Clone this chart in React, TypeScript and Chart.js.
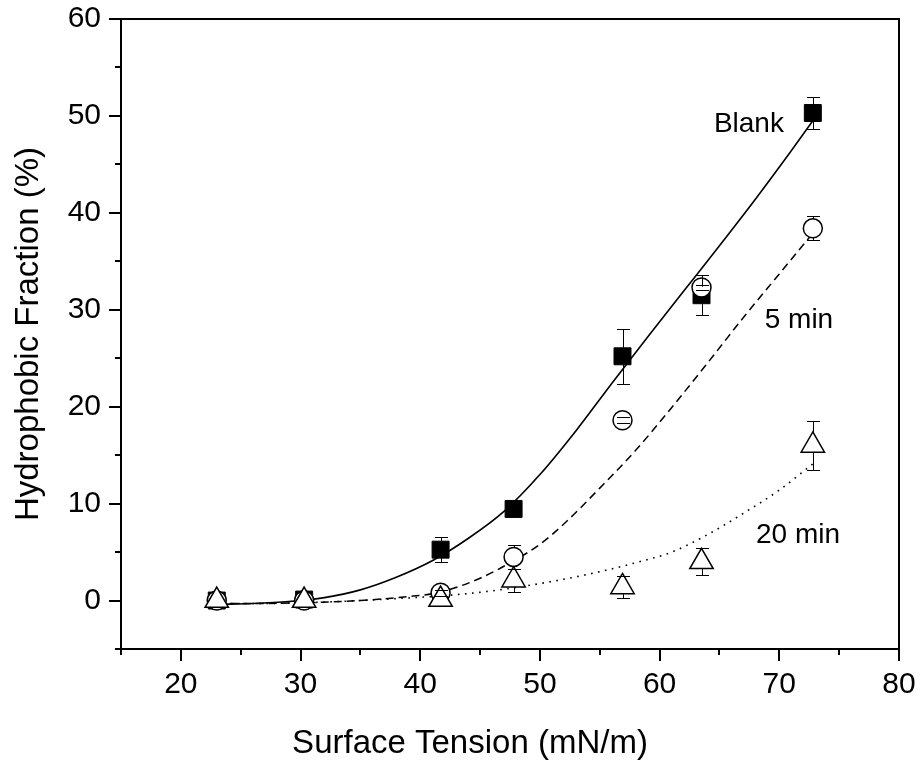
import React, { useEffect, useRef } from "react";
import { Chart, registerables } from "chart.js";
Chart.register(...registerables);

// Measured points (surface tension, mN/m)
const pointX = [23.0, 30.3, 41.7, 47.8, 56.9, 63.5, 72.8];
const blankY = [0.0, 0.1, 5.25, 9.45, 25.2, 31.5, 50.3];
const blankErr = [0, 0, 1.3, 0.3, 2.85, 2.05, 1.65];
const min5Y = [0.0, 0.0, 0.8, 4.5, 18.6, 32.3, 38.4];
const min5Err = [0, 0, 0.3, 1.2, 0.3, 0.3, 1.25];
const min20Y = [0.0, 0.0, 0.1, 2.1, 1.4, 4.0, 16.0];
const min20Err = [0, 0, 0, 1.2, 1.1, 1.4, 2.55];

// Fitted curves
const fitBlankX = [23, 26, 29, 32, 35, 38, 41, 44, 47, 50, 53, 56, 59, 62, 65, 68, 71, 72.8];
const fitBlankY = [-0.4, -0.3, -0.1, 0.3, 1.1, 2.4, 4.1, 6.4, 9.2, 13.0, 17.5, 22.4, 27.2, 31.9, 36.6, 41.4, 46.4, 49.5];
const fit5X = [23, 27, 31, 35, 38, 41.6, 45, 47.8, 50, 52, 55, 58, 61, 64, 67, 70, 72.8];
const fit5Y = [-0.3, -0.3, -0.2, 0.0, 0.3, 0.85, 2.3, 4.1, 5.8, 7.9, 11.6, 15.5, 19.9, 24.5, 29.2, 33.7, 37.9];
const fit20X = [23, 27, 31, 35, 38, 42, 46, 50, 54, 58, 61, 64, 67, 70, 72.8];
const fit20Y = [-0.3, -0.3, -0.2, 0.0, 0.2, 0.5, 1.0, 1.75, 2.7, 3.9, 5.0, 6.8, 9.0, 11.4, 14.1];

// Axis ticks
const xTickValues = [15, 20, 25, 30, 35, 40, 45, 50, 55, 60, 65, 70, 75, 80];
const yTickValues = [-5, 0, 5, 10, 15, 20, 25, 30, 35, 40, 45, 50, 55, 60];

// Curve labels
const annTexts = ["Blank", "5 min", "20 min"];
const annX = [67.46, 71.64, 71.56];
const annY = [48.3, 28.1, 5.9];

const xTitle = "Surface Tension (mN/m)";
const yTitle = "Hydrophobic Fraction (%)";

const FONT = "'Liberation Sans', Arial, Helvetica, sans-serif";

const zip = (xs: number[], ys: number[]) => xs.map((x, i) => ({ x, y: ys[i] }));

export default function App() {
  const ref = useRef<HTMLCanvasElement | null>(null);

  useEffect(() => {
    document.body.style.margin = "0";
    const canvas = ref.current;
    if (!canvas) return;

    const errPlugin = {
      id: "errbars",
      afterDatasetsDraw(chart: any) {
        const ctx = chart.ctx;
        const xs = chart.scales.x;
        const ys = chart.scales.y;
        const sets = [
          { y: blankY, e: blankErr, up: 8.5, down: 8.5 },
          { y: min5Y, e: min5Err, up: 9.5, down: 9.5 },
          { y: min20Y, e: min20Err, up: 13.5, down: 6.75 },
        ];
        ctx.save();
        ctx.strokeStyle = "#000";
        ctx.lineWidth = 1;
        sets.forEach((s) => {
          pointX.forEach((xv, i) => {
            const err = s.e[i];
            if (!err) return;
            const px = Math.round(xs.getPixelForValue(xv)) + 0.5;
            const pc = ys.getPixelForValue(s.y[i]);
            const pt = Math.round(ys.getPixelForValue(s.y[i] + err)) + 0.5;
            const pb = Math.round(ys.getPixelForValue(s.y[i] - err)) + 0.5;
            ctx.beginPath();
            if (pc - pt > s.up) {
              ctx.moveTo(px, pc - s.up);
              ctx.lineTo(px, pt);
            }
            if (pb - pc > s.down) {
              ctx.moveTo(px, pc + s.down);
              ctx.lineTo(px, pb);
            }
            ctx.moveTo(px - 6.5, pt);
            ctx.lineTo(px + 6.5, pt);
            ctx.moveTo(px - 6.5, pb);
            ctx.lineTo(px + 6.5, pb);
            ctx.stroke();
          });
        });
        ctx.restore();
      },
    };

    const decoPlugin = {
      id: "deco",
      afterDraw(chart: any) {
        const ctx = chart.ctx;
        const a = chart.chartArea;
        const xs = chart.scales.x;
        const ys = chart.scales.y;
        ctx.save();
        ctx.strokeStyle = "#000";
        ctx.lineWidth = 2;
        // frame top and right
        ctx.beginPath();
        ctx.moveTo(a.left, a.top);
        ctx.lineTo(a.right, a.top);
        ctx.lineTo(a.right, a.bottom);
        ctx.stroke();
        // minor ticks
        ctx.beginPath();
        xTickValues.forEach((v) => {
          if (v % 10 !== 0) {
            const px = Math.round(xs.getPixelForValue(v));
            ctx.moveTo(px, a.bottom);
            ctx.lineTo(px, a.bottom + 6);
          }
        });
        yTickValues.forEach((v) => {
          if (v % 10 !== 0) {
            const py = Math.round(ys.getPixelForValue(v));
            ctx.moveTo(a.left, py);
            ctx.lineTo(a.left - 6, py);
          }
        });
        ctx.stroke();
        // curve labels
        ctx.fillStyle = "#000";
        ctx.font = `28px ${FONT}`;
        ctx.textAlign = "center";
        ctx.textBaseline = "alphabetic";
        annTexts.forEach((t, i) => {
          ctx.fillText(t, xs.getPixelForValue(annX[i]), ys.getPixelForValue(annY[i]));
        });
        // axis titles
        ctx.font = `33px ${FONT}`;
        ctx.fillText(xTitle, 470, 753);
        ctx.translate(38, (a.top + a.bottom) / 2);
        ctx.rotate(-Math.PI / 2);
        ctx.fillText(yTitle, 0, 0);
        ctx.restore();
      },
    };

    const majorColor = (c: any) =>
      c.tick && Math.round(c.tick.value) % 10 === 0 ? "#000" : "rgba(0,0,0,0)";

    const chart = new Chart(canvas, {
      type: "scatter",
      data: {
        datasets: [
          {
            label: "20 min",
            data: zip(pointX, min20Y),
            pointStyle: "triangle",
            pointRadius: 13.5,
            pointBackgroundColor: "#fff",
            pointBorderColor: "#000",
            pointBorderWidth: 1.5,
            showLine: false,
            order: 0,
          },
          {
            label: "5 min",
            data: zip(pointX, min5Y),
            pointStyle: "circle",
            pointRadius: 9.5,
            pointBackgroundColor: "#fff",
            pointBorderColor: "#000",
            pointBorderWidth: 1.5,
            showLine: false,
            order: 1,
          },
          {
            label: "Blank",
            data: zip(pointX, blankY),
            pointStyle: "rect",
            pointRadius: 12,
            pointBackgroundColor: "#000",
            pointBorderColor: "#000",
            pointBorderWidth: 1,
            showLine: false,
            order: 2,
          },
          {
            label: "fit Blank",
            data: zip(fitBlankX, fitBlankY),
            showLine: true,
            borderColor: "#000",
            borderWidth: 1.6,
            pointRadius: 0,
            cubicInterpolationMode: "monotone",
            order: 3,
          },
          {
            label: "fit 5 min",
            data: zip(fit5X, fit5Y),
            showLine: true,
            borderColor: "#000",
            borderWidth: 1.5,
            borderDash: [8, 5],
            pointRadius: 0,
            cubicInterpolationMode: "monotone",
            order: 4,
          },
          {
            label: "fit 20 min",
            data: zip(fit20X, fit20Y),
            showLine: true,
            borderColor: "#000",
            borderWidth: 1.6,
            borderDash: [1.6, 5.5],
            pointRadius: 0,
            cubicInterpolationMode: "monotone",
            order: 5,
          },
        ],
      },
      options: {
        responsive: false,
        animation: false,
        devicePixelRatio: 1,
        layout: { padding: { top: 19, right: 21, left: 0, bottom: 0 } },
        plugins: {
          legend: { display: false },
          tooltip: { enabled: false },
        },
        scales: {
          x: {
            type: "linear",
            min: 15,
            max: 80,
            afterBuildTicks: (s: any) => {
              s.ticks = xTickValues.map((v) => ({ value: v }));
            },
            afterFit: (s: any) => {
              s.height = 112;
              s.paddingLeft = 0;
              s.paddingRight = 0;
            },
            ticks: {
              autoSkip: false,
              maxRotation: 0,
              padding: 6,
              color: "#000",
              font: { size: 30, family: FONT },
              callback: (v: any) => (Math.round(v) % 10 === 0 ? String(v) : ""),
            },
            grid: {
              drawOnChartArea: false,
              drawTicks: true,
              tickLength: 12,
              lineWidth: 2,
              color: majorColor,
            },
            border: { display: true, color: "#000", width: 2 },
          },
          y: {
            type: "linear",
            min: -5,
            max: 60,
            afterBuildTicks: (s: any) => {
              s.ticks = yTickValues.map((v) => ({ value: v }));
            },
            afterFit: (s: any) => {
              s.width = 121;
              s.paddingTop = 0;
              s.paddingBottom = 0;
            },
            ticks: {
              autoSkip: false,
              padding: 8,
              color: "#000",
              font: { size: 30, family: FONT },
              callback: (v: any) => (Math.round(v) % 10 === 0 ? String(v) : ""),
            },
            grid: {
              drawOnChartArea: false,
              drawTicks: true,
              tickLength: 12,
              lineWidth: 2,
              color: majorColor,
            },
            border: { display: true, color: "#000", width: 2 },
          },
        },
      },
      plugins: [errPlugin, decoPlugin],
    } as any);

    return () => chart.destroy();
  }, []);

  return (
    <canvas
      ref={ref}
      width={920}
      height={761}
      style={{ display: "block", width: 920, height: 761 }}
    />
  );
}
